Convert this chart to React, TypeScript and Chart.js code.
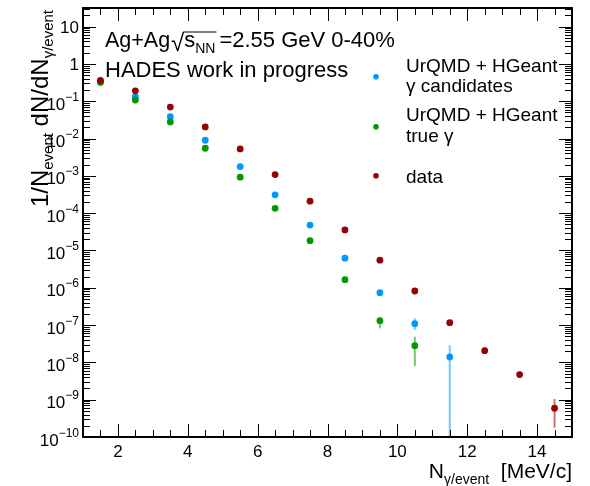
import React, { useEffect, useRef } from "react";
import { Chart, registerables } from "chart.js";

Chart.register(...registerables);

// ---------- data ----------
const xCenters = [1.5, 2.5, 3.5, 4.5, 5.5, 6.5, 7.5, 8.5, 9.5, 10.5, 11.5, 12.5, 13.5, 14.5];
const candidatesY = [0.34, 0.133, 0.0386, 0.009, 0.00177, 3.1e-4, 4.8e-5, 6.2e-6, 7.4e-7, 1.09e-7, 1.4e-8];
const trueGammaY = [0.32, 0.108, 0.0279, 0.0055, 9.2e-4, 1.35e-4, 1.83e-5, 1.65e-6, 1.31e-7, 2.8e-8];
const dataY = [0.36, 0.19, 0.07, 0.0205, 0.00526, 0.00108, 2.1e-4, 3.55e-5, 5.5e-6, 8.2e-7, 1.16e-7, 2.06e-8, 4.7e-9, 5.9e-10];

// error bars: [x, low, high]
const candidatesErr = [[10.5, 7.4e-8, 1.52e-7], [11.5, 0, 2.87e-8]];
const trueGammaErr = [[9.5, 8.2e-8, 1.62e-7], [10.5, 8.0e-9, 4.9e-8]];
const dataErr = [[13.5, 3.9e-9, 5.6e-9], [14.5, 1.77e-10, 1.04e-9]];

const xMajorTicks = [2, 4, 6, 8, 10, 12, 14];
const yDecades = [-10, -9, -8, -7, -6, -5, -4, -3, -2, -1, 0, 1];
const legendLabels = [
  ["UrQMD + HGeant", "γ candidates"],
  ["UrQMD + HGeant", "true γ"],
  ["data"],
];

const RED = "#990000";
const GREEN = "#009900";
const BLUE = "#0099ff";
const FONT = "'Liberation Sans', Arial, Helvetica, sans-serif";

type Seg = { t: string; size: number; dy?: number };

function richWidth(ctx: CanvasRenderingContext2D, segs: Seg[]) {
  let w = 0;
  for (const s of segs) {
    ctx.font = `${s.size}px ${FONT}`;
    w += ctx.measureText(s.t).width;
  }
  return w;
}
function drawRich(ctx: CanvasRenderingContext2D, segs: Seg[], x: number, y: number) {
  let cx = x;
  for (const s of segs) {
    ctx.font = `${s.size}px ${FONT}`;
    ctx.fillText(s.t, cx, y + (s.dy || 0));
    cx += ctx.measureText(s.t).width;
  }
  return cx;
}

const toPts = (ys: number[]) => ys.map((y, i) => ({ x: xCenters[i], y }));

const rootPlugin = {
  id: "rootStyle",
  beforeDatasetsDraw(chart: any) {
    const ctx: CanvasRenderingContext2D = chart.ctx;
    const xs = chart.scales.x;
    const ys = chart.scales.y;
    const area = chart.chartArea;
    const groups: [number[][], string][] = [
      [candidatesErr, BLUE],
      [trueGammaErr, GREEN],
      [dataErr, RED],
    ];
    ctx.save();
    ctx.globalAlpha = 0.55;
    ctx.lineWidth = 2;
    for (const [errs, col] of groups) {
      ctx.strokeStyle = col;
      for (const [x, lo, hi] of errs) {
        const px = xs.getPixelForValue(x);
        const yLo = lo > 0 ? Math.min(ys.getPixelForValue(lo), area.bottom) : area.bottom;
        const yHi = Math.max(ys.getPixelForValue(hi), area.top);
        ctx.beginPath();
        ctx.moveTo(px, yLo);
        ctx.lineTo(px, yHi);
        ctx.stroke();
      }
    }
    ctx.restore();
  },
  afterDraw(chart: any) {
    const ctx: CanvasRenderingContext2D = chart.ctx;
    const xs = chart.scales.x;
    const ys = chart.scales.y;
    const a = chart.chartArea;
    ctx.save();
    ctx.strokeStyle = "#000";
    ctx.fillStyle = "#000";
    // ticks
    ctx.lineWidth = 1;
    const major = 13, minor = 7;
    ctx.beginPath();
    for (let v = 1.5; v < 15; v += 0.5) {
      const px = Math.round(xs.getPixelForValue(v)) + 0.5;
      const len = xMajorTicks.includes(v) ? major : minor;
      ctx.moveTo(px, a.bottom);
      ctx.lineTo(px, a.bottom - len);
      ctx.moveTo(px, a.top);
      ctx.lineTo(px, a.top + len);
    }
    const yMax = ys.max;
    for (const d of yDecades) {
      for (let k = 1; k <= 9; k++) {
        const v = k * Math.pow(10, d);
        if (v < ys.min * 0.999 || v > yMax) continue;
        const py = Math.round(ys.getPixelForValue(v)) + 0.5;
        const len = k === 1 ? major : minor;
        ctx.moveTo(a.left, py);
        ctx.lineTo(a.left + len, py);
        ctx.moveTo(a.right, py);
        ctx.lineTo(a.right - len, py);
      }
    }
    ctx.stroke();
    ctx.lineWidth = 2;
    ctx.strokeRect(a.left, a.top, a.right - a.left, a.bottom - a.top);

    ctx.textAlign = "left";
    ctx.textBaseline = "alphabetic";
    // x tick labels
    for (const v of xMajorTicks) {
      ctx.font = `17px ${FONT}`;
      const t = String(v);
      const w = ctx.measureText(t).width;
      ctx.fillText(t, xs.getPixelForValue(v) - w / 2, 456.5);
    }
    // y tick labels
    const rightEdge = 79;
    for (const d of yDecades) {
      const py = ys.getPixelForValue(Math.pow(10, d));
      let segs: Seg[];
      let base: number;
      if (d === 0) {
        segs = [{ t: "1", size: 17 }];
        base = py + 6;
      } else if (d === 1) {
        segs = [{ t: "10", size: 17 }];
        base = py + 6;
      } else {
        segs = [{ t: "10", size: 17 }, { t: "−" + String(-d), size: 12, dy: -9 }];
        base = py + 8.5;
      }
      const w = richWidth(ctx, segs);
      drawRich(ctx, segs, rightEdge - w, base);
    }
    // y title
    ctx.save();
    ctx.translate(48, 10);
    ctx.rotate(-Math.PI / 2);
    const ySegs: Seg[] = [
      { t: "1/N", size: 24 },
      { t: "event", size: 15, dy: 5 },
      { t: " dN/dN", size: 24 },
      { t: "γ/event", size: 15, dy: 5 },
    ];
    const yw = richWidth(ctx, ySegs);
    drawRich(ctx, ySegs, -yw, 0);
    ctx.restore();
    // x title
    const xSegs: Seg[] = [
      { t: "N", size: 21 },
      { t: "γ/event", size: 14, dy: 6 },
      { t: "  [MeV/c]", size: 21 },
    ];
    const xw = richWidth(ctx, xSegs);
    drawRich(ctx, xSegs, a.right - xw, 478);

    // header text
    ctx.font = `21.5px ${FONT}`;
    ctx.fillText("Ag+Ag", 105, 47);
    ctx.font = `24px ${FONT}`;
    ctx.fillText("√", 171, 51);
    const rootEnd = 171 + ctx.measureText("√").width;
    ctx.font = `22px ${FONT}`;
    const sX = rootEnd;
    ctx.fillText("s", sX, 47);
    const nnX = sX + ctx.measureText("s").width;
    ctx.font = `14px ${FONT}`;
    ctx.fillText("NN", nnX, 53);
    const nnEnd = nnX + ctx.measureText("NN").width;
    ctx.lineWidth = 1.2;
    ctx.beginPath();
    ctx.moveTo(rootEnd - 1, 32);
    ctx.lineTo(nnEnd + 1, 32);
    ctx.stroke();
    ctx.font = `22px ${FONT}`;
    ctx.fillText("=2.55 GeV 0-40%", nnEnd + 4, 47);
    ctx.fillText("HADES work in progress", 105, 77);

    // legend
    const markerX = 376;
    const markerY = [76.7, 126.7, 175.7];
    const cols = [BLUE, GREEN, RED];
    const baselines = [[72.3, 91.7], [120.7, 141.7], [183]];
    for (let i = 0; i < 3; i++) {
      ctx.fillStyle = cols[i];
      ctx.beginPath();
      ctx.arc(markerX, markerY[i], 2.8, 0, Math.PI * 2);
      ctx.fill();
      ctx.fillStyle = "#000";
      ctx.font = `19px ${FONT}`;
      legendLabels[i].forEach((line, j) => ctx.fillText(line, 406, baselines[i][j]));
    }
    ctx.restore();
  },
};

export default function App() {
  const ref = useRef<HTMLCanvasElement>(null);
  useEffect(() => {
    if (!ref.current) return;
    const chart = new Chart(ref.current, {
      type: "scatter",
      data: {
        datasets: [
          { label: "data", data: toPts(dataY), backgroundColor: RED, borderWidth: 0, pointRadius: 3.4 },
          { label: "true", data: toPts(trueGammaY), backgroundColor: GREEN, borderWidth: 0, pointRadius: 3.4 },
          { label: "cand", data: toPts(candidatesY), backgroundColor: BLUE, borderWidth: 0, pointRadius: 3.4 },
        ],
      },
      options: {
        responsive: false,
        animation: false,
        devicePixelRatio: 1,
        layout: { padding: { left: 83, right: 18, top: 8, bottom: 49 } },
        plugins: { legend: { display: false }, tooltip: { enabled: false } },
        scales: {
          x: { type: "linear", min: 1, max: 15, display: false },
          y: { type: "logarithmic", min: 1e-10, max: Math.pow(10, 1.5), display: false },
        },
      },
      plugins: [rootPlugin],
    });
    return () => chart.destroy();
  }, []);
  return (
    <div style={{ position: "absolute", left: 0, top: 0, width: 590, height: 486, background: "#fff" }}>
      <canvas ref={ref} width={590} height={486} style={{ width: 590, height: 486 }} />
    </div>
  );
}
